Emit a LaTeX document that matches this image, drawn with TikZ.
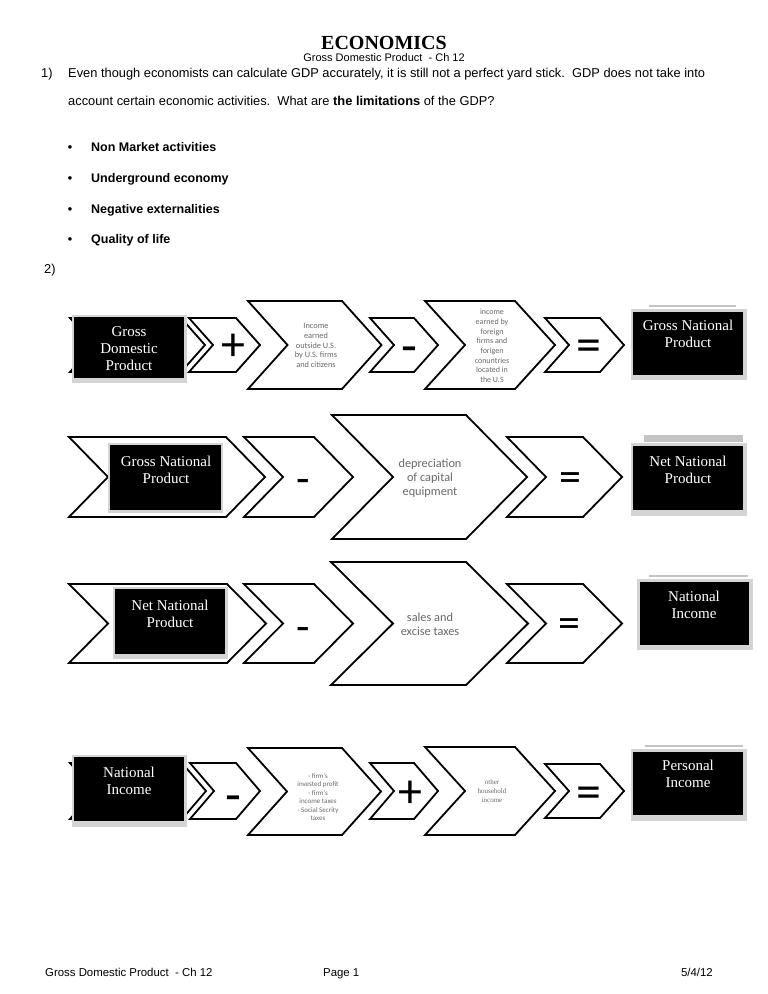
\documentclass[tikz,border=0pt]{standalone}
\usepackage{fontspec}
\setmainfont{Liberation Serif}
\newfontfamily\arialf{Liberation Sans}
\newfontfamily\calibf{Carlito}
\newfontfamily\timesf{Liberation Serif}
\definecolor{chevtext}{RGB}{105,105,105}
\definecolor{framegray}{RGB}{212,212,212}
\definecolor{bargray}{RGB}{196,196,196}
\newcommand\chevshape[5]{%
  \draw[chev] (#1,#4) -- (#2,#4) -- ({#2+#3},{(#4+#5)/2}) -- (#2,#5) -- (#1,#5) -- ({#1+#3},{(#4+#5)/2}) -- cycle;}
\newcommand\blackbox[9]{%
  \fill[framegray] (#6,#7) rectangle (#8,#9);
  \fill[black] (#2,#3) rectangle (#4,#5);
  \coordinate (#1) at ({(#2+#4)/2},{(#3+#5)/2});}
% operator glyphs placed by their baseline: #1 name, #2 x, #3 visual centre y, #4 size, #5 offset factor, #6 glyph
\newcommand\opglyph[6]{%
  \node[font=\calibf\fontsize{#4}{#4}\selectfont, anchor=base] (#1) at (#2,{#3+#5*#4}) {#6};}
\begin{document}
\begin{tikzpicture}[x=1pt,y=-1pt,
  every node/.style={inner sep=0pt},
  chev/.style={draw=black, line width=1.8pt, fill=white, line join=miter},
  body/.style={font=\arialf\fontsize{12.85}{15}\selectfont},
  bodyb/.style={font=\arialf\bfseries\fontsize{12.5}{15}\selectfont},
  foot/.style={font=\arialf\fontsize{11.4}{13}\selectfont},
  boxtxt/.style={font=\timesf\fontsize{15}{17}\selectfont, text=white, align=center},
  cbig/.style={font=\calibf\fontsize{12.3}{14}\selectfont, text=chevtext, align=center},
  csmall/.style={font=\calibf\fontsize{8.3}{9.8}\selectfont, text=chevtext, align=center}]
\useasboundingbox[fill=white] (0,0) rectangle (768,994);

% ---------------- header ----------------
\node[font=\timesf\bfseries\fontsize{20}{24}\selectfont, anchor=base] (title) at (384,49) {ECONOMICS};
\node[font=\arialf\fontsize{11}{13}\selectfont, anchor=base] (sub) at (384,61) {Gross Domestic Product\ \ - Ch 12};
\node[body, anchor=base west] (q1) at (41,77.5) {1)};
\node[body, anchor=base west] (q1a) at (68,77.5) {Even though economists can calculate GDP accurately, it is still not a perfect yard stick.\ \ GDP does not take into};
\node[body, anchor=base west] (q1b) at (68,105.5) {account certain economic activities.\ \ What are \textbf{the limitations} of the GDP?};
\node[bodyb, anchor=base] (bu1) at (70,151.5) {\textbullet};
\node[bodyb, anchor=base west] (li1) at (91,151.5) {Non Market activities};
\node[bodyb, anchor=base] (bu2) at (70,182.5) {\textbullet};
\node[bodyb, anchor=base west] (li2) at (91,182.5) {Underground economy};
\node[bodyb, anchor=base] (bu3) at (70,213) {\textbullet};
\node[bodyb, anchor=base west] (li3) at (91,213) {Negative externalities};
\node[bodyb, anchor=base] (bu4) at (70,243) {\textbullet};
\node[bodyb, anchor=base west] (li4) at (91,243) {Quality of life};
\node[body, anchor=base west] (q2) at (44,273) {2)};

% ---------------- row 1 ----------------
\chevshape{70}{181}{24}{318}{372}
\chevshape{189}{236}{24}{318}{372}
\chevshape{248}{342}{39.5}{301}{389}
\chevshape{370}{414}{24}{318}{372}
\chevshape{425}{515}{40}{301}{389}
\chevshape{545}{600}{24}{318}{372}
\blackbox{gdpbox}{74}{317}{184}{378}{72}{315}{187}{383}
\node[boxtxt] (gdp) at (129,349) {Gross\\Domestic\\Product};
\opglyph{plus1}{233}{345}{48}{0.33}{+}
\node[csmall] (inc1) at (316,345.5) {Income\\earned\\outside U.S.\\by U.S. firms\\and citizens};
\opglyph{minus1}{409}{345}{52}{0.36}{-}
\node[csmall, font=\calibf\fontsize{8}{9.7}\selectfont] (inc2) at (492,346) {income\\earned by\\foreign\\firms and\\forigen\\conuntries\\located in\\the U.S};
\opglyph{eq1}{589}{345}{50}{0.33}{=}
\draw[bargray, line width=1.5pt] (649,306) -- (736,306);
\blackbox{gnpbox}{633}{312}{743}{375}{631}{309}{747}{380}
\node[boxtxt] (gnp) at (688,334) {Gross National\\Product};

% ---------------- row 2 ----------------
\chevshape{69}{226}{39}{437}{517}
\chevshape{244}{314}{39}{437}{517}
\chevshape{332}{466}{61}{415}{539}
\chevshape{507}{583}{39}{437}{517}
\blackbox{gnpbox2}{110}{445}{221}{510}{108}{443}{223}{513}
\node[boxtxt] (gnp2) at (166,470) {Gross National\\Product};
\opglyph{minus2}{303}{477}{44}{0.38}{-}
\node[cbig] (dep) at (430,478) {depreciation\\of capital\\equipment};
\opglyph{eq2}{570}{477}{44}{0.33}{=}
\fill[bargray] (644,435) rectangle (743,442);
\blackbox{nnpbox}{633}{446}{743}{510}{631}{443}{747}{516}
\node[boxtxt] (nnp) at (688,470) {Net National\\Product};

% ---------------- row 3 ----------------
\chevshape{69}{227}{39}{584}{663}
\chevshape{244}{314}{39}{584}{663}
\chevshape{331}{466}{62}{562}{685}
\chevshape{507}{583}{39}{584}{663}
\blackbox{nnpbox2}{115}{589}{225}{654}{113}{587}{228}{659}
\node[boxtxt] (nnp2) at (170,614) {Net National\\Product};
\opglyph{minus3}{303}{625}{44}{0.37}{-}
\node[cbig] (sal) at (430,624) {sales and\\excise taxes};
\opglyph{eq3}{569}{623}{44}{0.33}{=}
\draw[bargray, line width=1.5pt] (649,576) -- (748,576);
\blackbox{nibox}{640}{582}{749}{645}{637}{579}{753}{650}
\node[boxtxt] (ni) at (694,605) {National\\Income};

% ---------------- row 4 ----------------
\chevshape{70}{182}{24}{763}{819}
\chevshape{190}{236}{24}{763}{819}
\chevshape{248}{342}{39}{748}{835}
\chevshape{370}{414}{24}{763}{819}
\chevshape{425}{515}{40}{747}{835}
\chevshape{545}{600}{24}{764}{818}
\blackbox{nibox2}{74}{757}{184}{821}{72}{755}{187}{827}
\node[boxtxt] (ni2) at (129,781) {National\\Income};
\opglyph{minus4}{233}{794}{52}{0.36}{-}
\node[csmall, font=\calibf\fontsize{7}{7.6}\selectfont] (firm) at (318,797) {- firm's\\invested profit\\[2pt]- firm's\\income taxes\\[2pt]- Social Secrity\\taxes};
\opglyph{plus4}{410}{792}{48}{0.33}{+}
\node[csmall, font=\timesf\fontsize{7}{9}\selectfont] (oth) at (492,791.5) {other\\household\\income};
\opglyph{eq4}{589}{792}{50}{0.33}{=}
\draw[bargray, line width=1.5pt] (645,746) -- (743,746);
\blackbox{pibox}{633}{752}{743}{815}{631}{749}{747}{821}
\node[boxtxt] (pi) at (688,774) {Personal\\Income};

% ---------------- footer ----------------
\node[foot, anchor=base west] (f1) at (45,976) {Gross Domestic Product\ \ - Ch 12};
\node[foot, anchor=base west] (f2) at (323,976) {Page 1};
\node[foot, anchor=base east] (f3) at (713,976) {5/4/12};
\end{tikzpicture}
\end{document}
